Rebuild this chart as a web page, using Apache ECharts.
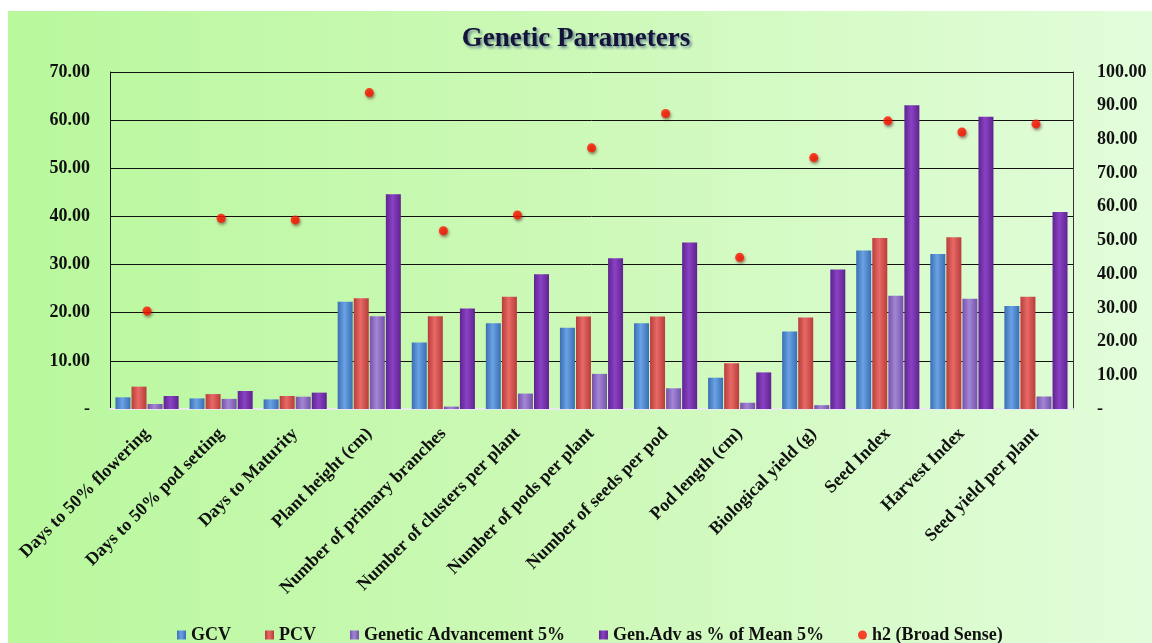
<!DOCTYPE html>
<html>
<head>
<meta charset="utf-8">
<script src="https://cdn.jsdelivr.net/npm/echarts@6/dist/echarts.min.js"></script>
<style>
  html, body { margin: 0; padding: 0; background: #ffffff; }
  #chart { width: 1152px; height: 643px; }
</style>
</head>
<body>
<div id="chart"></div>
<script>
// traits on the x axis
const categories = [
  'Days to 50% flowering', 'Days to 50% pod setting', 'Days to Maturity',
  'Plant height (cm)', 'Number of primary branches', 'Number of clusters per plant',
  'Number of pods per plant', 'Number of seeds per pod', 'Pod length (cm)',
  'Biological yield (g)', 'Seed Index', 'Harvest Index', 'Seed yield per plant'
]
// left axis (bars)
const gcv = [2.43, 2.2, 2.0, 22.3, 13.8, 17.8, 16.9, 17.8, 6.5, 16.1, 32.9, 32.2, 21.4]
const pcv = [4.64, 3.1, 2.7, 23.0, 19.25, 23.3, 19.2, 19.2, 9.5, 19.0, 35.5, 35.7, 23.3]
const genAdv = [1.04, 2.1, 2.56, 19.25, 0.5, 3.2, 7.3, 4.3, 1.3, 0.8, 23.5, 22.9, 2.6]
const genAdvMean = [2.7, 3.74, 3.4, 44.6, 20.9, 28.0, 31.3, 34.6, 7.6, 29.0, 63.1, 60.7, 40.9]
// right axis (dots)
const h2 = [29.1, 56.6, 56.1, 93.9, 52.9, 57.6, 77.5, 87.7, 45.0, 74.6, 85.5, 82.2, 84.6]

const serif = 'Liberation Serif'

// horizontal gradient to fake the 3D bar look
function barFill(dark, light) {
  return new echarts.graphic.LinearGradient(0, 0, 1, 0, [
    { offset: 0, color: dark },
    { offset: 0.45, color: light },
    { offset: 1, color: dark }
  ])
}

function fmt(v) {
  return v === 0 ? '-' : v.toFixed(2)
}

function barSeries(name, data, dark, light) {
  return {
    name: name,
    type: 'bar',
    data: data,
    barWidth: 15,
    barGap: '7%',
    itemStyle: { color: barFill(dark, light) }
  }
}

let myChart = echarts.init(document.getElementById('chart'))
let option = {
  animation: false,
  textStyle: { fontFamily: serif },
  graphic: {
    elements: [{
      type: 'rect',
      left: 8,
      top: 11,
      silent: true,
      z: -100,
      shape: { width: 1144, height: 632 },
      style: {
        fill: new echarts.graphic.LinearGradient(0, 0, 1, 0, [
          { offset: 0, color: '#b9f89d' },
          { offset: 0.5, color: '#cdf9b8' },
          { offset: 1, color: '#e2fddb' }
        ])
      }
    }]
  },
  title: {
    text: 'Genetic Parameters',
    left: 'center',
    top: 21,
    textStyle: {
      fontFamily: serif,
      fontSize: 27,
      fontWeight: 'bold',
      color: '#14143a',
      textShadowColor: 'rgba(20,40,110,0.55)',
      textShadowBlur: 3,
      textShadowOffsetX: 2,
      textShadowOffsetY: 2
    }
  },
  grid: {
    left: 110,
    right: 79,
    top: 72,
    bottom: 234,
    containLabel: false
  },
  legend: {
    top: 621,
    left: 172,
    itemWidth: 9,
    itemHeight: 9,
    itemGap: 34,
    textStyle: { fontFamily: serif, fontSize: 18, fontWeight: 'bold', color: '#111' },
    data: [
      { name: 'GCV', icon: 'rect' },
      { name: 'PCV', icon: 'rect' },
      { name: 'Genetic Advancement 5%', icon: 'rect' },
      { name: 'Gen.Adv as % of Mean 5%', icon: 'rect' },
      { name: 'h2 (Broad Sense)', icon: 'circle' }
    ]
  },
  xAxis: {
    type: 'category',
    data: categories,
    axisTick: { show: false },
    axisLine: { lineStyle: { color: '#e6ecea', width: 2 } },
    axisLabel: {
      rotate: 45,
      interval: 0,
      margin: 22,
      fontFamily: serif,
      fontSize: 18,
      fontWeight: 'bold',
      color: '#111'
    }
  },
  yAxis: [
    {
      type: 'value',
      min: 0,
      max: 70,
      interval: 10,
      axisLine: { show: true, lineStyle: { color: '#111', width: 1 } },
      axisTick: { show: false },
      splitLine: { lineStyle: { color: '#111', width: 1 } },
      axisLabel: {
        formatter: fmt,
        margin: 20,
        fontFamily: serif,
        fontSize: 18,
        fontWeight: 'bold',
        color: '#111'
      }
    },
    {
      type: 'value',
      min: 0,
      max: 100,
      interval: 10,
      position: 'right',
      axisLine: { show: true, lineStyle: { color: '#333', width: 1 } },
      axisTick: { show: false },
      splitLine: { show: false },
      axisLabel: {
        formatter: fmt,
        margin: 24,
        fontFamily: serif,
        fontSize: 18,
        fontWeight: 'bold',
        color: '#111'
      }
    }
  ],
  series: [
    barSeries('GCV', gcv, '#3a6eb4', '#6aa2e4'),
    barSeries('PCV', pcv, '#b83c3a', '#e86a66'),
    barSeries('Genetic Advancement 5%', genAdv, '#7552a8', '#a386d6'),
    barSeries('Gen.Adv as % of Mean 5%', genAdvMean, '#5f2390', '#8a42c4'),
    {
      name: 'h2 (Broad Sense)',
      type: 'scatter',
      yAxisIndex: 1,
      data: h2,
      symbol: 'circle',
      symbolSize: 9,
      itemStyle: {
        color: '#ff1500',
        shadowColor: 'rgba(60,0,0,0.6)',
        shadowBlur: 3,
        shadowOffsetX: 1,
        shadowOffsetY: 2
      }
    }
  ]
}
myChart.setOption(option)
</script>
</body>
</html>
